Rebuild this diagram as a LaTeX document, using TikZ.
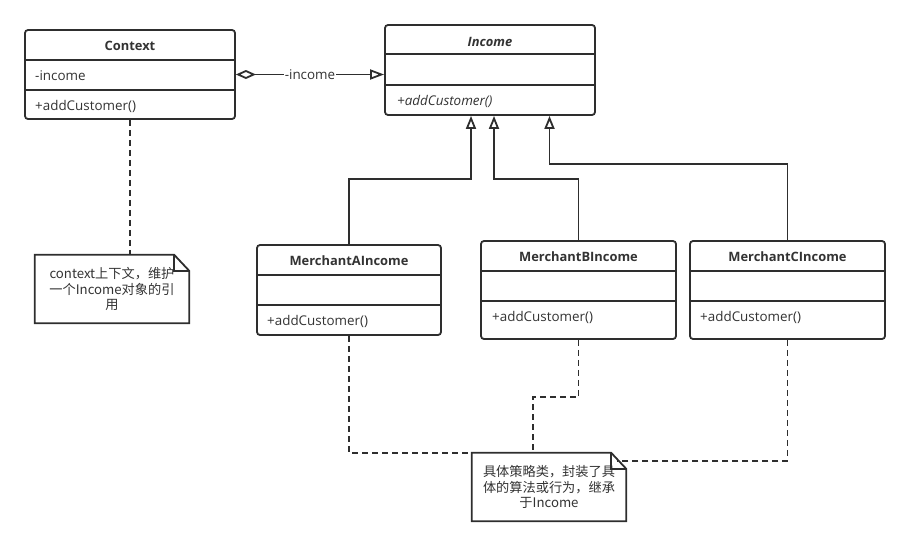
\documentclass[tikz,border=0pt]{standalone}
\usepackage{fontspec}
\setmainfont{Open Sans}
\newfontfamily\cjk{Noto Sans CJK SC}
\usetikzlibrary{arrows.meta}
\definecolor{linegray}{HTML}{2E2E2E}
\definecolor{textgray}{HTML}{333333}
\newcommand{\umlsize}{\fontsize{13.4}{16}\selectfont}
\newcommand{\umlnamesize}{\fontsize{12.9}{15}\selectfont}
\tikzset{
  classbox/.style={draw=linegray, line width=1.8pt, rounded corners=3pt, fill=white, inner sep=0pt},
  classname/.style={font=\umlnamesize\bfseries, text=textgray, inner sep=0pt},
  member/.style={anchor=west, text=textgray, inner sep=0pt},
  notebox/.style={inner sep=0pt, align=center, text=textgray, font=\cjk\fontsize{13.2}{15.5}\selectfont},
  gen/.style={draw=linegray, line width=1.8pt, -{Triangle[open, length=13pt, width=10pt]}},
  aggr/.style={draw=linegray, line width=1.8pt, {Diamond[open, length=20pt, width=9pt]}-{Triangle[open, length=14pt, width=10pt]}},
  anchorline/.style={draw=linegray, line width=1.8pt, dash pattern=on 6pt off 4pt}
}
\begin{document}
\begin{tikzpicture}[x=1pt, y=-1pt, font=\umlsize]
      \useasboundingbox (0,0) rectangle (910,546);
      % classes
      \node[classbox, minimum width=210pt, minimum height=89pt] (context) at (130,74.5) {};
      \node[classbox, minimum width=210pt, minimum height=90pt] (income) at (490,70) {};
      \node[classbox, minimum width=184pt, minimum height=90pt] (merA) at (349,290) {};
      \node[classbox, minimum width=195pt, minimum height=98pt] (merB) at (578.5,290) {};
      \node[classbox, minimum width=195pt, minimum height=98pt] (merC) at (787.5,290) {};
      \begin{scope}[draw=linegray, line width=1.8pt]
        \draw (context.west |- 0,60) -- (context.east |- 0,60);
        \draw (context.west |- 0,90) -- (context.east |- 0,90);
        \draw (income.west |- 0,54) -- (income.east |- 0,54);
        \draw (income.west |- 0,85) -- (income.east |- 0,85);
        \draw (merA.west |- 0,275) -- (merA.east |- 0,275);
        \draw (merA.west |- 0,305) -- (merA.east |- 0,305);
        \draw (merB.west |- 0,271) -- (merB.east |- 0,271);
        \draw (merB.west |- 0,301) -- (merB.east |- 0,301);
        \draw (merC.west |- 0,271) -- (merC.east |- 0,271);
        \draw (merC.west |- 0,301) -- (merC.east |- 0,301);
      \end{scope}
      \draw
        (130,46) node[classname] (context-name) {Context}
        (35,76) node[member] (context-attr) {-income}
        (35,106) node[member] (context-op) {+addCustomer()}
        (490,41.5) node[classname, font=\umlnamesize\bfseries\itshape] (income-name) {Income}
        (397,101) node[member, font=\umlsize\itshape] (income-op) {+addCustomer()}
        (349,261) node[classname] (merA-name) {MerchantAIncome}
        (267,321) node[member] (merA-op) {+addCustomer()}
        (578.5,257) node[classname] (merB-name) {MerchantBIncome}
        (492,317) node[member] (merB-op) {+addCustomer()}
        (787.5,257) node[classname] (merC-name) {MerchantCIncome}
        (700,317) node[member] (merC-op) {+addCustomer()};
      % notes
      \node[notebox, minimum width=154pt, minimum height=68pt] (ctxnote) at (112,289)
        {context上下文，维护\\一个Income对象的引\\用};
      \node[notebox, minimum width=154pt, minimum height=68pt] (mernote) at (549,487)
        {具体策略类，封装了具\\体的算法或行为，继承\\于Income};
      \begin{scope}[draw=linegray, line width=1.8pt, line join=miter]
        \draw (ctxnote.north west) -- ([xshift=-15pt]ctxnote.north east)
          -- ([yshift=-16pt]ctxnote.north east) -- (ctxnote.south east)
          -- (ctxnote.south west) -- cycle;
        \draw ([xshift=-15pt]ctxnote.north east) -- ([xshift=-15pt, yshift=-16pt]ctxnote.north east)
          -- ([yshift=-16pt]ctxnote.north east);
        \draw (mernote.north west) -- ([xshift=-15pt]mernote.north east)
          -- ([yshift=-16pt]mernote.north east) -- (mernote.south east)
          -- (mernote.south west) -- cycle;
        \draw ([xshift=-15pt]mernote.north east) -- ([xshift=-15pt, yshift=-16pt]mernote.north east)
          -- ([yshift=-16pt]mernote.north east);
      \end{scope}
      % connectors
      \begin{scope}
        \draw[aggr] (context.east) -- (context.east -| income.west)
          node[pos=0.5, fill=white, inner sep=1pt, text=textgray] (aggr-label) {-income};
        \draw[gen] (merA.north) -- ++(0,-65) -| ([xshift=-19pt]income.south);
        \draw[gen] (merB.north) -- ++(0,-61) -| ([xshift=4pt]income.south);
        \draw[gen] (merC.north) -- ++(0,-76) -| ([xshift=59.5pt]income.south);
        \draw[anchorline] (context.south) -- (context.south |- ctxnote.north);
        \draw[anchorline] (merA.south) |- (mernote.north west);
        \draw[anchorline] (merB.south) -- ++(0,57) -| ([xshift=-16pt]mernote.north);
        \draw[anchorline] (merC.south) |- ([xshift=-9pt, yshift=-8pt]mernote.north east);
      \end{scope}
    \end{tikzpicture}
\end{document}
